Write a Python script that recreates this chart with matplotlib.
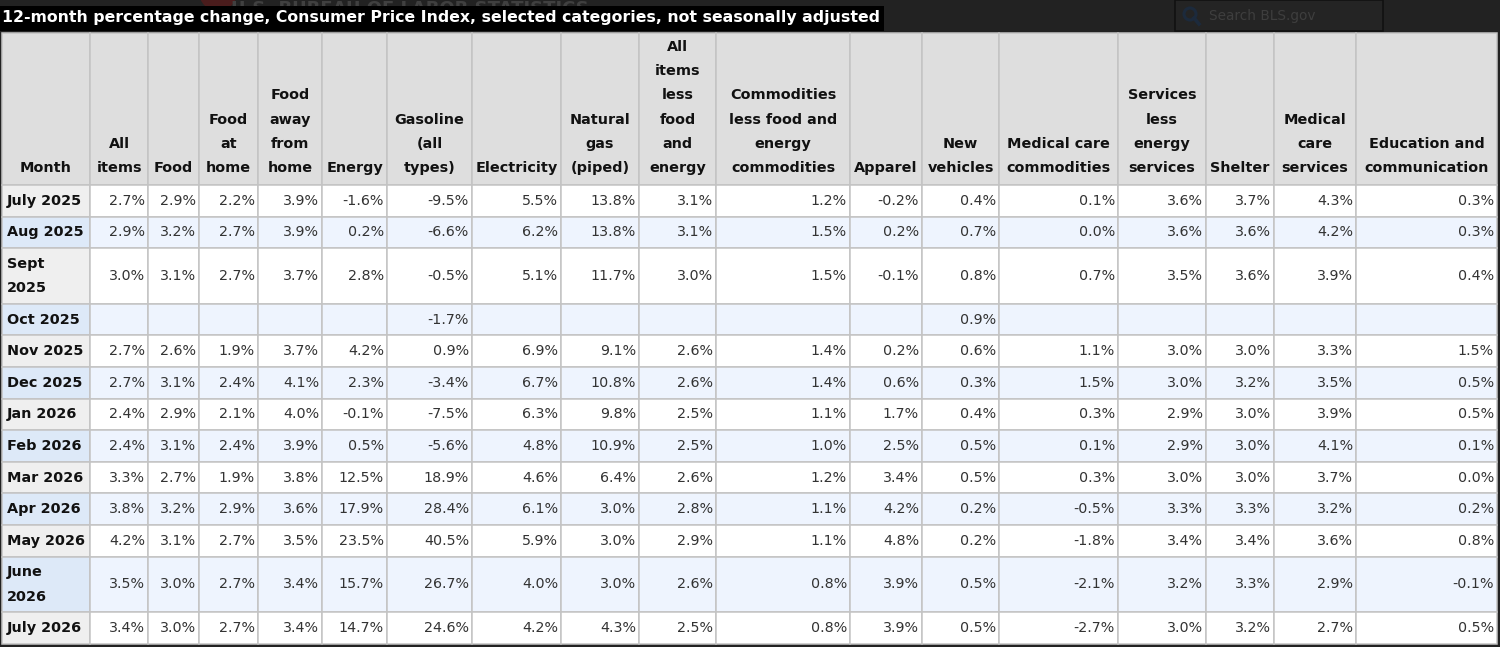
import matplotlib
matplotlib.use("Agg")
import matplotlib.pyplot as plt
from matplotlib.patches import Rectangle, Circle
from matplotlib.lines import Line2D

# ---------------- data ----------------
title = "12-month percentage change, Consumer Price Index, selected categories, not seasonally adjusted"

headers = ["Month", "All\nitems", "Food", "Food\nat\nhome", "Food\naway\nfrom\nhome", "Energy",
           "Gasoline\n(all\ntypes)", "Electricity", "Natural\ngas\n(piped)",
           "All\nitems\nless\nfood\nand\nenergy",
           "Commodities\nless food and\nenergy\ncommodities", "Apparel", "New\nvehicles",
           "Medical care\ncommodities", "Services\nless\nenergy\nservices", "Shelter",
           "Medical\ncare\nservices", "Education and\ncommunication"]

months = ["July 2025", "Aug 2025", "Sept\n2025", "Oct 2025", "Nov 2025", "Dec 2025",
          "Jan 2026", "Feb 2026", "Mar 2026", "Apr 2026", "May 2026", "June\n2026", "July 2026"]

all_items = [2.7, 2.9, 3.0, None, 2.7, 2.7, 2.4, 2.4, 3.3, 3.8, 4.2, 3.5, 3.4]
food = [2.9, 3.2, 3.1, None, 2.6, 3.1, 2.9, 3.1, 2.7, 3.2, 3.1, 3.0, 3.0]
food_at_home = [2.2, 2.7, 2.7, None, 1.9, 2.4, 2.1, 2.4, 1.9, 2.9, 2.7, 2.7, 2.7]
food_away = [3.9, 3.9, 3.7, None, 3.7, 4.1, 4.0, 3.9, 3.8, 3.6, 3.5, 3.4, 3.4]
energy = [-1.6, 0.2, 2.8, None, 4.2, 2.3, -0.1, 0.5, 12.5, 17.9, 23.5, 15.7, 14.7]
gasoline = [-9.5, -6.6, -0.5, -1.7, 0.9, -3.4, -7.5, -5.6, 18.9, 28.4, 40.5, 26.7, 24.6]
electricity = [5.5, 6.2, 5.1, None, 6.9, 6.7, 6.3, 4.8, 4.6, 6.1, 5.9, 4.0, 4.2]
natural_gas = [13.8, 13.8, 11.7, None, 9.1, 10.8, 9.8, 10.9, 6.4, 3.0, 3.0, 3.0, 4.3]
core = [3.1, 3.1, 3.0, None, 2.6, 2.6, 2.5, 2.5, 2.6, 2.8, 2.9, 2.6, 2.5]
core_goods = [1.2, 1.5, 1.5, None, 1.4, 1.4, 1.1, 1.0, 1.2, 1.1, 1.1, 0.8, 0.8]
apparel = [-0.2, 0.2, -0.1, None, 0.2, 0.6, 1.7, 2.5, 3.4, 4.2, 4.8, 3.9, 3.9]
new_vehicles = [0.4, 0.7, 0.8, 0.9, 0.6, 0.3, 0.4, 0.5, 0.5, 0.2, 0.2, 0.5, 0.5]
med_commodities = [0.1, 0.0, 0.7, None, 1.1, 1.5, 0.3, 0.1, 0.3, -0.5, -1.8, -2.1, -2.7]
core_services = [3.6, 3.6, 3.5, None, 3.0, 3.0, 2.9, 2.9, 3.0, 3.3, 3.4, 3.2, 3.0]
shelter = [3.7, 3.6, 3.6, None, 3.0, 3.2, 3.0, 3.0, 3.0, 3.3, 3.4, 3.3, 3.2]
med_services = [4.3, 4.2, 3.9, None, 3.3, 3.5, 3.9, 4.1, 3.7, 3.2, 3.6, 2.9, 2.7]
education = [0.3, 0.3, 0.4, None, 1.5, 0.5, 0.5, 0.1, 0.0, 0.2, 0.8, -0.1, 0.5]

series = [all_items, food, food_at_home, food_away, energy, gasoline, electricity,
          natural_gas, core, core_goods, apparel, new_vehicles, med_commodities,
          core_services, shelter, med_services, education]

# ---------------- layout ----------------
W, H = 1500, 647
col_edges = [2, 90, 148, 199, 258, 322, 387, 472, 561, 639, 716, 850, 922, 999,
             1118, 1206, 1274, 1356, 1497]
header_top, header_bot = 33, 185
row_h_single, row_h_double = 31.6, 55.6
line_step = 24.2

bg_dark = "#222222"
header_bg = "#dedede"
month_bg = ["#efefef", "#dde9f8"]
cell_bg = ["#ffffff", "#eef4fe"]
grid_c = "#c3c3c3"
txt_dark = "#111111"
txt_data = "#333333"
fs_title = 11.3
fs_head = 10.4
fs_data = 10.3

fig = plt.figure(figsize=(W / 100, H / 100), dpi=100, facecolor=bg_dark)
ax = fig.add_axes([0, 0, 1, 1])
ax.set_xlim(0, W)
ax.set_ylim(H, 0)
ax.axis("off")
ax.set_facecolor(bg_dark)

# top bar decorations (site header partly hidden behind the title)
ax.add_patch(Circle((218, -8), 19, facecolor="#4a1c1c", edgecolor="none", zorder=1))
ax.text(410, 9, "U.S. BUREAU OF LABOR STATISTICS", ha="center", va="center",
        fontsize=13, fontweight="bold", color="#404040", zorder=1)
ax.add_patch(Rectangle((1175, 0), 208, 31, facecolor="#242424", edgecolor="#111111",
                       lw=1.2, zorder=1))
ax.add_patch(Circle((1190, 14), 6, facecolor="none", edgecolor="#1c2a3c", lw=2.2, zorder=2))
ax.add_line(Line2D([1194, 1199], [18, 24], color="#1c2a3c", lw=2.6, zorder=2))
ax.text(1209, 16, "Search BLS.gov", ha="left", va="center", fontsize=9.8,
        color="#3e3e3e", zorder=2)

# title
ax.add_patch(Rectangle((0, 5.5), 884, 25, facecolor="#000000", edgecolor="none", zorder=3))
ax.text(2, 17.5, title, ha="left", va="center", fontsize=fs_title, fontweight="bold",
        color="white", zorder=4)

# header row
for i, h in enumerate(headers):
    x0, x1 = col_edges[i], col_edges[i + 1]
    ax.add_patch(Rectangle((x0, header_top), x1 - x0, header_bot - header_top,
                           facecolor=header_bg, edgecolor=grid_c, lw=1.1, zorder=5))
    lines = h.split("\n")
    n = len(lines)
    for k, ln in enumerate(lines):
        y = 168 - (n - 1 - k) * line_step
        ax.text((x0 + x1) / 2, y, ln, ha="center", va="center", fontsize=fs_head,
                fontweight="bold", color=txt_dark, zorder=6)

# body rows
y = header_bot
for r, m in enumerate(months):
    rh = row_h_double if "\n" in m else row_h_single
    alt = r % 2
    ax.add_patch(Rectangle((col_edges[0], y), col_edges[1] - col_edges[0], rh,
                           facecolor=month_bg[alt], edgecolor=grid_c, lw=1.1, zorder=5))
    mlines = m.split("\n")
    nm = len(mlines)
    for k, ln in enumerate(mlines):
        yy = y + rh / 2 + (k - (nm - 1) / 2) * line_step
        ax.text(col_edges[0] + 5, yy, ln, ha="left", va="center", fontsize=fs_head,
                fontweight="bold", color=txt_dark, zorder=6)
    for c, s in enumerate(series):
        x0, x1 = col_edges[c + 1], col_edges[c + 2]
        ax.add_patch(Rectangle((x0, y), x1 - x0, rh, facecolor=cell_bg[alt],
                               edgecolor=grid_c, lw=1.1, zorder=5))
        v = s[r]
        if v is not None:
            ax.text(x1 - 3, y + rh / 2, f"{v:.1f}%", ha="right", va="center",
                    fontsize=fs_data, color=txt_data, zorder=6)
    y += rh

fig.savefig("out.png", dpi=100, facecolor=bg_dark)
